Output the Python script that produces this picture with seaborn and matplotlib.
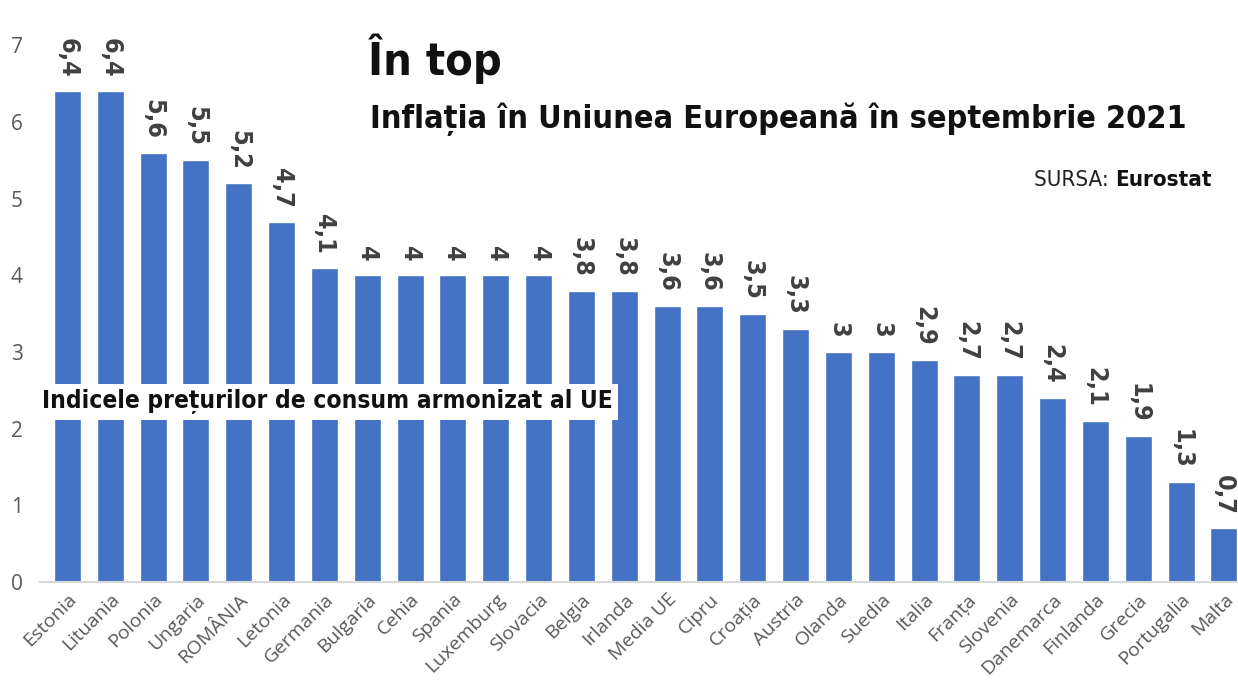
import matplotlib
matplotlib.use("Agg")
import matplotlib.pyplot as plt
import seaborn as sns
import pandas as pd

countries = ['Estonia', 'Lituania', 'Polonia', 'Ungaria', 'ROMÂNIA', 'Letonia', 'Germania',
             'Bulgaria', 'Cehia', 'Spania', 'Luxemburg', 'Slovacia', 'Belgia', 'Irlanda',
             'Media UE', 'Cipru', 'Croația', 'Austria', 'Olanda', 'Suedia', 'Italia', 'Franța',
             'Slovenia', 'Danemarca', 'Finlanda', 'Grecia', 'Portugalia', 'Malta']
inflation = [6.4, 6.4, 5.6, 5.5, 5.2, 4.7, 4.1, 4, 4, 4, 4, 4, 3.8, 3.8,
             3.6, 3.6, 3.5, 3.3, 3, 3, 2.9, 2.7, 2.7, 2.4, 2.1, 1.9, 1.3, 0.7]
y_ticks = [0, 1, 2, 3, 4, 5, 6, 7]

df = pd.DataFrame({'tara': countries, 'inflatie': inflation})

sns.set_style('white')
plt.rcParams['font.family'] = ['Open Sans', 'DejaVu Sans']
cond = dict(family=['DejaVu Sans'], fontstretch='condensed', fontweight='bold')

fig = plt.figure(figsize=(12.38, 6.8), dpi=100)
ax = fig.add_axes([0.032, 0.144, 0.968, 0.856])

sns.barplot(data=df, x='tara', y='inflatie', color='#4472C4', saturation=1, width=0.63, ax=ax)

ax.set_xlim(-0.65, 27.33)
ax.set_ylim(0, 7.59)
ax.set_yticks(y_ticks)
ax.set_xlabel('')
ax.set_ylabel('')
for s in ['top', 'right', 'left']:
    ax.spines[s].set_visible(False)
ax.spines['bottom'].set_color('#d9d9d9')
ax.spines['bottom'].set_linewidth(1.5)
ax.tick_params(axis='y', length=0, labelsize=15, labelcolor='#595959', pad=12)
ax.tick_params(axis='x', length=0, labelsize=14, labelcolor='#595959', pad=6)
plt.setp(ax.get_xticklabels(), rotation=45, ha='right', rotation_mode='anchor')

# etichete valori, rotite
for i, v in enumerate(inflation):
    txt = f'{v:g}'.replace('.', ',')
    ax.annotate(txt, (i, v), xytext=(0, 10), textcoords='offset points',
                rotation=270, ha='center', va='bottom', fontsize=18,
                color='#404040', **cond)

renderer = fig.canvas.get_renderer()

def fit_width(t, width_px):
    # scaleaza fontul ca textul sa aiba latimea dorita
    w = t.get_window_extent(renderer).width
    t.set_fontsize(t.get_fontsize() * width_px / w)

W, H = 1238, 680
t1 = fig.text(368 / W, 1 - 75 / H, 'În top', fontsize=44, color='#111111',
              ha='left', va='baseline', **cond)
fit_width(t1, 134)
t2 = fig.text(370 / W, 1 - 128 / H, 'Inflația în Uniunea Europeană în septembrie 2021',
              fontsize=29, color='#111111', ha='left', va='baseline', **cond)
fit_width(t2, 813)

t3 = fig.text(1212 / W, 1 - 190 / H, 'Eurostat', fontsize=16, color='#111111',
              ha='right', va='bottom', **cond)
ax.annotate('SURSA: ', xy=(0, 0), xycoords=t3, ha='right', va='bottom', fontsize=16,
            color='#222222', family=['DejaVu Sans'], fontstretch='condensed')

t4 = ax.text(-0.6, 2.35, 'Indicele prețurilor de consum armonizat al UE', fontsize=24,
             color='#111111', ha='left', va='center',
             bbox=dict(facecolor='white', edgecolor='none', pad=5.5), **cond)
fit_width(t4, 568)

fig.savefig('out.png', dpi=100)
